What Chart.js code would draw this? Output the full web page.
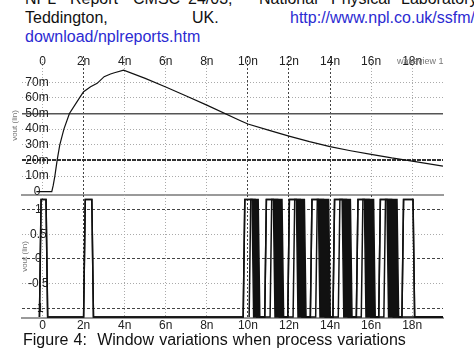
<!DOCTYPE html>
<html>
<head>
<meta charset="utf-8">
<script src="https://cdn.jsdelivr.net/npm/chart.js@4.4.1/dist/chart.umd.min.js"></script>
<style>
  body { margin: 0; width: 474px; height: 354px; overflow: hidden; background: #fff; position: relative; font-family: "Liberation Sans", Arial, sans-serif; }
  .w { position: absolute; font-size: 16px; line-height: 18.7px; white-space: pre; color: #111; }
  .link { color: #2b2bd2; }
  canvas { position: absolute; left: 0; }
  #waveTitle { position: absolute; left: 397px; top: 56px; font-size: 9px; color: #777; white-space: pre; }
</style>
</head>
<body>
<!-- texto del artículo, la primera línea queda cortada -->
<div class="w" style="left:25px;top:-9.6px">NPL</div>
<div class="w" style="left:70px;top:-9.6px">Report</div>
<div class="w" style="left:133px;top:-9.6px">CMSC</div>
<div class="w" style="left:188px;top:-9.6px">24/03,</div>
<div class="w" style="left:259px;top:-9.6px">National</div>
<div class="w" style="left:331px;top:-9.6px">Physical</div>
<div class="w" style="left:401px;top:-9.6px">Laboratory,</div>
<div class="w" style="left:25px;top:9.1px">Teddington,</div>
<div class="w" style="left:192px;top:9.1px">UK.</div>
<div class="w link" style="left:290px;top:9.1px">http://www.npl.co.uk/ssfm/</div>
<div class="w link" style="left:25px;top:27.8px">download/nplreports.htm</div>

<canvas id="topChart" width="474" height="146" style="top:50px"></canvas>
<canvas id="bottomChart" width="474" height="137" style="top:195px"></canvas>
<div id="waveTitle">waveview 1</div>

<div class="w" style="left:23px;top:330.6px;word-spacing:0.7px">Figure 4:  Window variations when process variations</div>

<script>
// Eje de tiempo (ns)
const timeTicks = [0, 2, 4, 6, 8, 10, 12, 14, 16, 18];
const timeLabels = ['0', '2n', '4n', '6n', '8n', '10n', '12n', '14n', '16n', '18n'];

// Panel superior: vout (V)
const topTicks = [0, 0.01, 0.02, 0.03, 0.04, 0.05, 0.06, 0.07];
const topLabels = ['0', '10m', '20m', '30m', '40m', '50m', '60m', '70m'];
const curveTime = [-0.3, 0.45, 0.52, 0.6, 0.71, 0.84, 1.04, 1.31, 1.8, 2.0, 2.34, 2.66, 3.0, 3.31, 3.5, 3.95,
                   5.0, 6.0, 7.0, 8.0, 9.64, 10.0, 11.0, 12.0, 13.0, 14.0, 15.0, 16.0, 17.0, 18.0, 19.5];
const curveVolt = [0, 0, 0.004, 0.010, 0.020, 0.030, 0.040, 0.050, 0.060, 0.064, 0.0672, 0.0693, 0.0736, 0.0753, 0.0761, 0.0778,
                   0.0725, 0.0670, 0.0612, 0.0554, 0.0454, 0.0433, 0.0394, 0.0356, 0.0320, 0.0288, 0.0262, 0.0239, 0.0216, 0.0196, 0.0164];

// Panel inferior: vout (V), flancos
const bottomTicks = [-1, -0.5, 0, 0.5, 1];
const bottomLabels = ['-1', '-0.5', '0', '0.5', '1'];
const levels = [-1.17, 1.2]; // bajo, alto
const pulseRise = [-0.15, 2.0, 9.77, 10.82, 11.94, 13.04, 14.14, 15.28, 16.37, 17.5];
const fallEarly = [0.17, 2.4, 10.2, 11.24, 12.36, 13.43, 14.59, 15.67, 16.77, 18.04];
const fallLate = [0.17, 2.4, 10.5, 11.66, 12.75, 13.93, 14.99, 16.12, 17.26, 18.04];
const lateRise = [10.06, 11.08, 12.2, 13.3, 14.4, 15.52, 16.62];
const lateFall = [10.35, 11.45, 12.55, 13.68, 14.8, 15.9, 17.0];
const timeEnd = 19.5;

// Estilos de la grilla
const EDGE = 0.08;
const darkTimeTop = [2, 10, 12, 14];
const darkTimeBottom = [2, 10, 12, 14, 16];
const near = (a, b) => Math.abs(a - b) < 1e-9;
const inList = (list, v) => list.some(d => near(d, v));
const font = { family: 'Liberation Sans', size: 12 };

// Quita el relleno que Chart.js reserva para las etiquetas de los extremos
function noPadding(s) {
    s.paddingTop = 0;
    s.paddingBottom = 0;
    s.paddingLeft = 0;
    s.paddingRight = 0;
}

// Arma la forma de onda a partir de los flancos
function waveform(rises, falls) {
    const lo = levels[0], hi = levels[1];
    const pts = [];
    rises.forEach((r, i) => {
        pts.push({ x: r, y: lo }, { x: r + EDGE, y: hi }, { x: falls[i], y: hi }, { x: falls[i] + EDGE, y: lo });
    });
    pts.push({ x: timeEnd, y: lo });
    return pts;
}

function timeAxis(position, darkList) {
    const isTop = position === 'top';
    return {
        type: 'linear',
        position: position,
        min: -1,
        max: timeEnd,
        afterBuildTicks: s => { s.ticks = timeTicks.map(v => ({ value: v })); },
        afterFit: s => { s.height = isTop ? 6 : 14; noPadding(s); },
        ticks: {
            font: font,
            color: '#222',
            mirror: isTop,
            padding: isTop ? -1.7 : 0,
            maxRotation: 0,
            autoSkip: false,
            callback: v => timeLabels[timeTicks.indexOf(v)]
        },
        grid: {
            drawTicks: false,
            color: ctx => ctx.tick && inList(darkList, ctx.tick.value) ? '#444' : '#aaa',
            lineWidth: 1
        },
        border: {
            display: !isTop,
            color: '#9a9a9a',
            width: 2,
            dash: ctx => !ctx.tick ? [] : (inList(darkList, ctx.tick.value) ? [2, 2] : [1, 2])
        }
    };
}

// Gráfico superior
new Chart(document.getElementById('topChart'), {
    type: 'line',
    data: {
        datasets: [{
            data: curveTime.map((t, i) => ({ x: t, y: curveVolt[i] })),
            borderColor: '#111',
            borderWidth: 1.2,
            pointRadius: 0,
            tension: 0
        }]
    },
    options: {
        responsive: false,
        animation: false,
        layout: { padding: { left: 0, right: 31, top: 0, bottom: 1 } },
        plugins: { legend: { display: false }, tooltip: { enabled: false } },
        scales: {
            x: timeAxis('top', darkTimeTop),
            x2: {
                type: 'linear',
                position: 'bottom',
                min: -1,
                max: timeEnd,
                ticks: { display: false },
                grid: { display: false, drawTicks: false },
                border: { display: true, color: '#9a9a9a', width: 2 },
                afterFit: s => { s.height = 0; noPadding(s); }
            },
            y: {
                type: 'linear',
                min: -0.0021,
                max: 0.0868,
                afterBuildTicks: s => { s.ticks = topTicks.map(v => ({ value: v })); },
                afterFit: s => { s.width = 22; noPadding(s); },
                ticks: {
                    mirror: true,
                    crossAlign: 'center',
                    padding: 3.3,
                    font: font,
                    color: '#222',
                    callback: v => topLabels[topTicks.findIndex(t => near(t, v))]
                },
                title: { display: true, text: 'vout (lin)', color: '#777', font: { family: 'Liberation Sans', size: 8 }, padding: { top: 10, bottom: 0 } },
                grid: {
                    drawTicks: false,
                    color: ctx => {
                        if (!ctx.tick || near(ctx.tick.value, 0)) return 'rgba(0,0,0,0)';
                        if (near(ctx.tick.value, 0.05)) return '#555';
                        if (near(ctx.tick.value, 0.02)) return '#333';
                        return '#aaa';
                    },
                    lineWidth: ctx => ctx.tick && near(ctx.tick.value, 0.05) ? 1.5 : (ctx.tick && near(ctx.tick.value, 0.02) ? 2 : 1)
                },
                border: {
                    display: false,
                    dash: ctx => {
                        if (!ctx.tick || near(ctx.tick.value, 0.05)) return [];
                        if (near(ctx.tick.value, 0.02)) return [4, 1];
                        return [1, 2];
                    }
                }
            }
        }
    }
});

// Gráfico inferior
const lineStyle = { borderColor: '#111', borderWidth: 1.5, pointRadius: 0, tension: 0 };
new Chart(document.getElementById('bottomChart'), {
    type: 'line',
    data: {
        datasets: [
            Object.assign({ data: waveform(pulseRise, fallEarly), fill: false }, lineStyle),
            Object.assign({ data: waveform(pulseRise, fallLate), fill: { target: 0 }, backgroundColor: '#111' }, lineStyle),
            Object.assign({ data: waveform(lateRise, lateFall), fill: false }, lineStyle)
        ]
    },
    options: {
        responsive: false,
        animation: false,
        layout: { padding: { left: 0, right: 31, top: 0, bottom: 0 } },
        plugins: { legend: { display: false }, tooltip: { enabled: false } },
        scales: {
            x: timeAxis('bottom', darkTimeBottom),
            y: {
                type: 'linear',
                min: -1.192,
                max: 1.293,
                afterBuildTicks: s => { s.ticks = bottomTicks.map(v => ({ value: v })); },
                afterFit: s => { s.width = 22; noPadding(s); },
                ticks: {
                    mirror: true,
                    crossAlign: 'center',
                    padding: 6,
                    font: font,
                    color: '#222',
                    callback: v => bottomLabels[bottomTicks.indexOf(v)]
                },
                title: { display: true, text: 'vout (lin)', color: '#777', font: { family: 'Liberation Sans', size: 8 }, padding: { top: 20, bottom: 0 } },
                grid: {
                    drawTicks: false,
                    color: ctx => ctx.tick && Number.isInteger(ctx.tick.value) ? '#444' : '#aaa'
                },
                border: {
                    display: false,
                    dash: ctx => !ctx.tick ? [] : (Number.isInteger(ctx.tick.value) ? [3, 2] : [1, 2])
                }
            }
        }
    }
});
</script>
</body>
</html>
